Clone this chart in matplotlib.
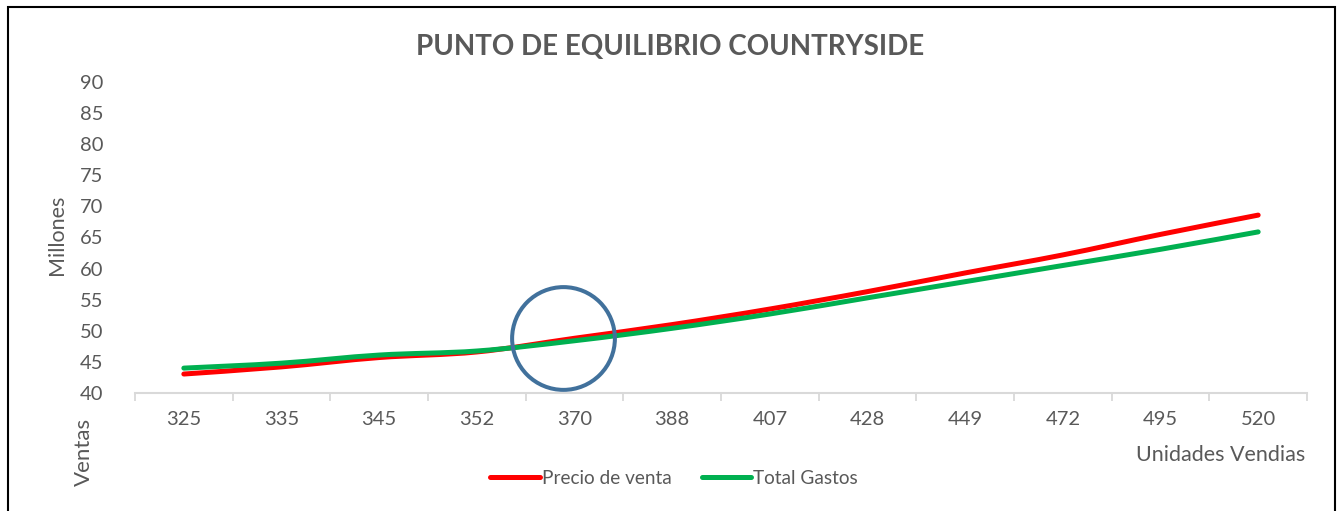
import matplotlib.pyplot as plt
from matplotlib.patches import Rectangle, PathPatch
from matplotlib.path import Path
from matplotlib.lines import Line2D
import numpy as np

# units sold (categories) and series in millions
unidades = ["325", "335", "345", "352", "370", "388", "407", "428", "449", "472", "495", "520"]
precio_venta = [43.05, 44.2, 45.7, 46.6, 48.8, 51.0, 53.5, 56.3, 59.3, 62.2, 65.5, 68.6]
total_gastos = [44.0, 44.8, 46.1, 46.75, 48.4, 50.4, 52.7, 55.3, 57.9, 60.5, 63.1, 65.9]

# break-even marker (drawn shape, slightly left of the 370 category)
circulo_x = 3.88
circulo_y = 48.8

gray = "#595959"
plt.rcParams['font.family'] = ['Lato', 'DejaVu Sans']


def smooth_path(xs, ys):
    # bezier segments through every point, like a smoothed line chart
    p = np.column_stack([xs, ys]).astype(float)
    pts = [p[0]]
    codes = [Path.MOVETO]
    n = len(p)
    for i in range(n - 1):
        p0 = p[max(i - 1, 0)]
        p1, p2 = p[i], p[i + 1]
        p3 = p[min(i + 2, n - 1)]
        pts += [p1 + (p2 - p0) / 6, p2 - (p3 - p1) / 6, p2]
        codes += [Path.CURVE4] * 3
    return Path(pts, codes)


fig = plt.figure(figsize=(13.39, 5.11), dpi=100)
ax = fig.add_axes([135 / 1339, 118 / 511, 1172 / 1339, 311 / 511])

x = np.arange(len(unidades))
series = [(precio_venta, "#FF0000", "Precio de venta"), (total_gastos, "#00B050", "Total Gastos")]
handles = []
for vals, col, lab in series:
    ax.add_patch(PathPatch(smooth_path(x, vals), fill=False, ec=col, lw=3.6, capstyle="round"))
    handles.append(Line2D([], [], color=col, lw=3.6, solid_capstyle="round", label=lab))

ax.plot([circulo_x], [circulo_y], marker="o", ms=74, mfc="none",
        mec="#41719C", mew=2.9, clip_on=False)

ax.set_xlim(-0.5, len(unidades) - 0.5)
ax.set_ylim(40, 90)
ax.set_yticks(np.arange(40, 91, 5))
ax.tick_params(axis="y", length=0, pad=23, labelsize=14.5, labelcolor=gray)

# category boundaries get tick marks, labels sit at the centers
ax.set_xticks(np.arange(-0.5, len(unidades), 1.0))
ax.set_xticklabels([])
ax.set_xticks(x, minor=True)
ax.set_xticklabels(unidades, minor=True)
ax.tick_params(axis="x", which="major", length=6, width=1.3, color="#D9D9D9")
ax.tick_params(axis="x", which="minor", length=0, pad=13, labelsize=14.5, labelcolor=gray)

for side in ["top", "right", "left"]:
    ax.spines[side].set_visible(False)
ax.spines["bottom"].set_color("#D9D9D9")
ax.spines["bottom"].set_linewidth(1.5)

fig.text(670 / 1339, 1 - 47 / 511, "PUNTO DE EQUILIBRIO COUNTRYSIDE", ha="center", va="center",
         fontsize=20, fontweight="bold", color=gray)
fig.text(57 / 1339, 1 - 235 / 511, "Millones", rotation=90, ha="center", va="center",
         fontsize=15.5, color=gray)
fig.text(84 / 1339, 1 - 452 / 511, "Ventas", rotation=90, ha="center", va="center",
         fontsize=16, color=gray)
fig.text(1305 / 1339, 1 - 455 / 511, "Unidades Vendias", ha="right", va="center",
         fontsize=15.5, color=gray)

leg = fig.legend(handles=handles, loc="center", bbox_to_anchor=(674 / 1339, 1 - 478 / 511), ncol=2,
                 frameon=False, fontsize=13.7, handlelength=2.6, handletextpad=0.1, columnspacing=1.6)
for t in leg.get_texts():
    t.set_color(gray)

fig.patches.append(Rectangle((8 / 1339, -0.05), 1327 / 1339, 1.05 - 7 / 511,
                             transform=fig.transFigure, fill=False, ec="black", lw=1.5))

fig.savefig("out.png", dpi=100)
